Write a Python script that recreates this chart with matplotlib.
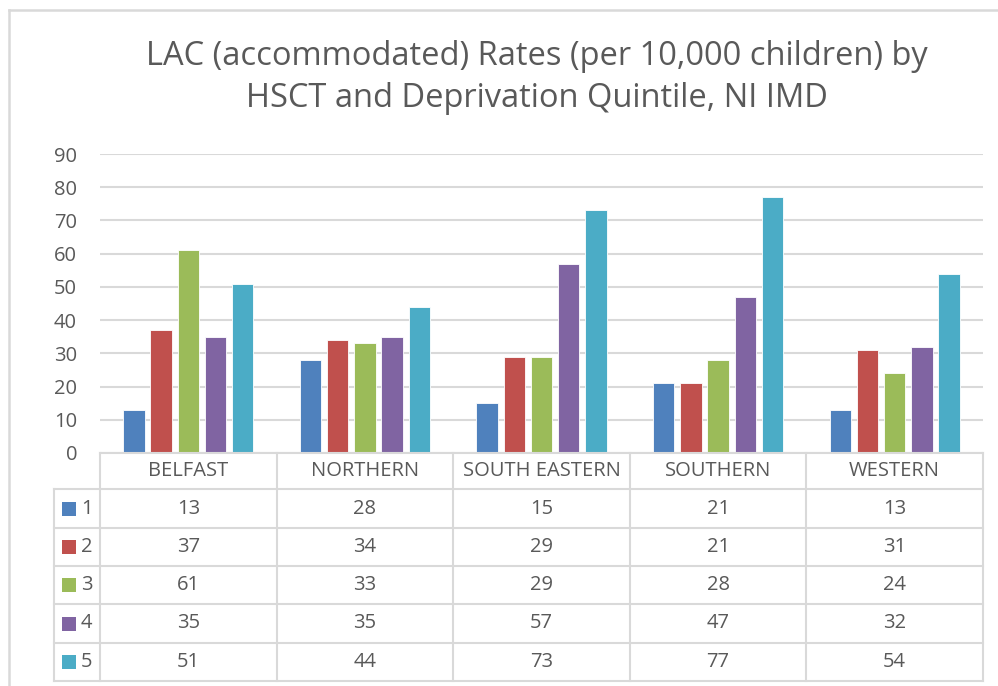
import matplotlib
matplotlib.use("Agg")
import matplotlib.pyplot as plt
import matplotlib.transforms as mtransforms
from matplotlib.patches import Rectangle
from matplotlib.lines import Line2D
import numpy as np

plt.rcParams['font.family'] = ['Open Sans', 'DejaVu Sans']

title_lines = ["LAC (accommodated) Rates (per 10,000 children) by",
               "HSCT and Deprivation Quintile, NI IMD"]
categories = ["BELFAST", "NORTHERN", "SOUTH EASTERN", "SOUTHERN", "WESTERN"]
series_names = ["1", "2", "3", "4", "5"]
q1 = [13, 28, 15, 21, 13]
q2 = [37, 34, 29, 21, 31]
q3 = [61, 33, 29, 28, 24]
q4 = [35, 35, 57, 47, 32]
q5 = [51, 44, 73, 77, 54]
yticks = [0, 10, 20, 30, 40, 50, 60, 70, 80, 90]
colors = ["#4F81BD", "#C0504D", "#9BBB59", "#8064A2", "#4BACC6"]

series = [q1, q2, q3, q4, q5]
W, H = 998, 686
fig = plt.figure(figsize=(W / 100, H / 100), dpi=100)

def fy(y):
    return 1 - y / H

grid_c = "#D9D9D9"
text_c = "#595959"

# outer frame
fig.add_artist(Line2D([9 / W, 9 / W], [fy(10), 0], color=grid_c, lw=1.8, transform=fig.transFigure))
fig.add_artist(Line2D([9 / W, 1], [fy(10), fy(10)], color=grid_c, lw=1.8, transform=fig.transFigure))

ax_left, ax_right, ax_top, ax_bot = 100, 983, 154, 453
ax = fig.add_axes([ax_left / W, fy(ax_bot), (ax_right - ax_left) / W, (ax_bot - ax_top) / H])

n = len(categories)
x = np.arange(n)
slot = 0.154
bw = 0.122
for i, (s, c) in enumerate(zip(series, colors)):
    ax.bar(x + (i - 2) * slot, s, width=bw, color=c, edgecolor="#FFFFFF", linewidth=0.6, zorder=3)

ax.set_xlim(-0.5, n - 0.5)
ax.set_ylim(0, 90)
ax.set_yticks(yticks)
ax.set_yticklabels([str(t) for t in yticks], fontsize=14.5, color=text_c)
ax.tick_params(axis='y', length=0, pad=16.5)
ax.set_xticks([])
ax.yaxis.grid(True, color=grid_c, linewidth=1.5, zorder=0)
for sp in ax.spines.values():
    sp.set_visible(False)

# title
fig.text(537 / W, fy(65), title_lines[0], ha="center", va="baseline", fontsize=23.5, color=text_c)
fig.text(537 / W, fy(107), title_lines[1], ha="center", va="baseline", fontsize=23.5, color=text_c)

# data table
tr = mtransforms.blended_transform_factory(ax.transData, fig.transFigure)
row_y = [453, 489, 528, 566, 604, 643, 681]
lab_left = 54
lw = 1.5
fig.add_artist(Line2D([-0.5, n - 0.5], [fy(row_y[0]), fy(row_y[0])], color=grid_c, lw=lw, transform=tr))
for y in row_y[1:]:
    fig.add_artist(Line2D([lab_left / W, ax_right / W], [fy(y), fy(y)], color=grid_c, lw=lw, transform=fig.transFigure))
for b in np.arange(n + 1) - 0.5:
    fig.add_artist(Line2D([b, b], [fy(row_y[0]), fy(row_y[-1])], color=grid_c, lw=lw, transform=tr))
fig.add_artist(Line2D([lab_left / W, lab_left / W], [fy(row_y[1]), fy(row_y[-1])], color=grid_c, lw=lw, transform=fig.transFigure))

for i, cat in enumerate(categories):
    fig.text(i, fy((row_y[0] + row_y[1]) / 2), cat, transform=tr, ha="center", va="center", fontsize=14.5, color=text_c)
for r, (name, s, c) in enumerate(zip(series_names, series, colors)):
    yc = fy((row_y[r + 1] + row_y[r + 2]) / 2)
    fig.add_artist(Rectangle((62 / W, yc - 7 / H), 14 / W, 14 / H, facecolor=c, edgecolor="none", transform=fig.transFigure))
    fig.text(81 / W, yc, name, ha="left", va="center", fontsize=14.5, color=text_c)
    for i, v in enumerate(s):
        fig.text(i, yc, str(v), transform=tr, ha="center", va="center", fontsize=14.5, color=text_c)

fig.savefig("out.png", dpi=100)
